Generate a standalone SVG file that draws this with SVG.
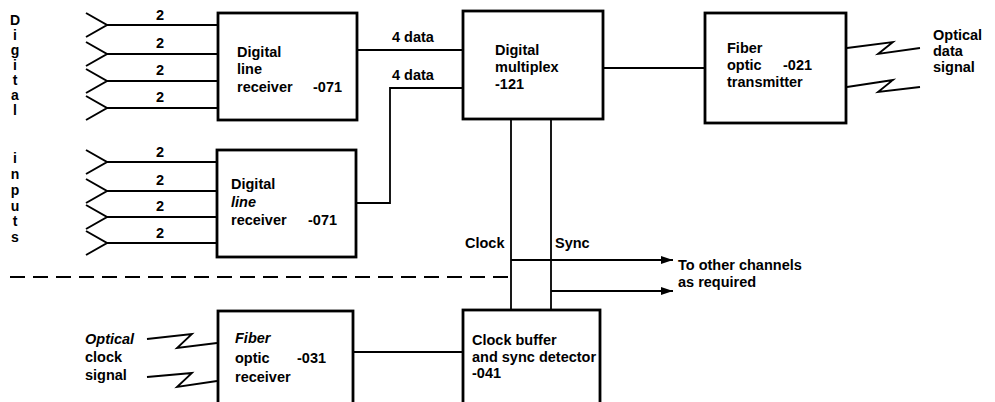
<svg xmlns="http://www.w3.org/2000/svg" width="995" height="402" viewBox="0 0 995 402">
<defs>
<marker id="ah" viewBox="0 0 12 8" refX="12" refY="4" markerWidth="12" markerHeight="8" markerUnits="userSpaceOnUse" orient="auto">
<path d="M0,0 L12,4 L0,8 Z" fill="#000"/>
</marker>
</defs>
<style>
text{font-family:"Liberation Sans",Arial,sans-serif;font-weight:bold;font-size:14.5px;fill:#000}
.box{fill:#fff;stroke:#000;stroke-width:2.8}
.ln{fill:none;stroke:#000;stroke-width:1.8}
.ch{fill:none;stroke:#000;stroke-width:2}
.it{font-style:italic}
.vt{text-anchor:middle;font-size:14px}
.dash{fill:none;stroke:#000;stroke-width:1.8;stroke-dasharray:15 8}
</style>
<rect width="995" height="402" fill="#fff"/>

<g id="label-digital-inputs">
<text class="vt" x="15" y="25">D</text>
<text class="vt" x="15" y="40">i</text>
<text class="vt" x="15" y="55">g</text>
<text class="vt" x="15" y="70">i</text>
<text class="vt" x="15" y="85">t</text>
<text class="vt" x="15" y="100">a</text>
<text class="vt" x="15" y="115">l</text>
<text class="vt" x="15" y="163">i</text>
<text class="vt" x="15" y="179">n</text>
<text class="vt" x="15" y="195">p</text>
<text class="vt" x="15" y="211">u</text>
<text class="vt" x="15" y="226">t</text>
<text class="vt" x="15" y="242">s</text>
</g>

<g id="connectors">
<path class="ch" d="M86,13 L107,25 L86,37 M86,42 L107,54 L86,66 M86,69 L107,81 L86,93 M86,96 L107,108 L86,120"/>
<path class="ln" d="M107,25 H218 M107,54 H218 M107,81 H218 M107,108 H218"/>
<path class="ch" d="M86,150 L107,162 L86,174 M86,179 L107,191 L86,203 M86,205 L107,217 L86,229 M86,231 L107,243 L86,255"/>
<path class="ln" d="M107,162 H217 M107,191 H217 M107,217 H217 M107,243 H217"/>
<path class="ln" d="M357,50 H463"/>
<path class="ln" d="M356,203 H390 V88 H463"/>
<path class="ln" d="M603,68 H705"/>
<path class="ln" d="M511,119 V310 M551,119 V310"/>
<path class="ln" d="M511,260 H673" marker-end="url(#ah)"/>
<path class="ln" d="M551,291 H673" marker-end="url(#ah)"/>
<path class="dash" d="M10,277 H511"/>
<path class="ln" d="M353,352 H463"/>
<path class="ln" d="M847,48 L893,42 L878,54 L920,48 M847,87 L893,80 L878,92 L920,87"/>
<path class="ln" d="M147,339 L192,334 L177,348 L217,343 M147,377 L192,373 L177,387 L217,381"/>
</g>

<g id="input-labels">
<text x="160" y="20" text-anchor="middle">2</text>
<text x="160" y="48" text-anchor="middle">2</text>
<text x="160" y="75" text-anchor="middle">2</text>
<text x="160" y="102" text-anchor="middle">2</text>
<text x="160" y="157" text-anchor="middle">2</text>
<text x="160" y="185" text-anchor="middle">2</text>
<text x="160" y="211" text-anchor="middle">2</text>
<text x="160" y="238" text-anchor="middle">2</text>
<text x="392" y="42">4 data</text>
<text x="392" y="80">4 data</text>
<text x="465" y="248">Clock</text>
<text x="555" y="248">Sync</text>
<text x="678" y="270">To other channels</text>
<text x="678" y="287">as required</text>
</g>

<g id="node-line-receiver-1">
<rect class="box" x="218" y="13" width="139" height="107"/>
<text x="237" y="57">Digital</text>
<text x="237" y="74">line</text>
<text x="237" y="92">receiver</text>
<text x="313" y="92">-071</text>
</g>

<g id="node-line-receiver-2">
<rect class="box" x="217" y="150" width="139" height="107"/>
<text x="231" y="189">Digital</text>
<text x="231" y="207" class="it">line</text>
<text x="231" y="225">receiver</text>
<text x="308" y="225">-071</text>
</g>

<g id="node-multiplex">
<rect class="box" x="463" y="11" width="140" height="108"/>
<text x="495" y="55">Digital</text>
<text x="495" y="72">multiplex</text>
<text x="495" y="89">-121</text>
</g>

<g id="node-fiber-transmitter">
<rect class="box" x="705" y="13" width="141" height="110"/>
<text x="727" y="53">Fiber</text>
<text x="727" y="70">optic</text>
<text x="783" y="70">-021</text>
<text x="727" y="87">transmitter</text>
</g>

<g id="label-optical-data">
<text x="933" y="40">Optical</text>
<text x="933" y="56">data</text>
<text x="933" y="72">signal</text>
</g>

<g id="node-fiber-receiver">
<rect class="box" x="218" y="311" width="135" height="100"/>
<text x="235" y="343" class="it">Fiber</text>
<text x="235" y="363">optic</text>
<text x="297" y="363">-031</text>
<text x="235" y="382">receiver</text>
</g>

<g id="label-optical-clock">
<text x="85" y="344" class="it">Optical</text>
<text x="85" y="362">clock</text>
<text x="85" y="380">signal</text>
</g>

<g id="node-clock-buffer">
<rect class="box" x="463" y="310" width="137" height="100"/>
<text x="472" y="345">Clock buffer</text>
<text x="472" y="362">and sync detector</text>
<text x="472" y="378">-041</text>
</g>
</svg>
